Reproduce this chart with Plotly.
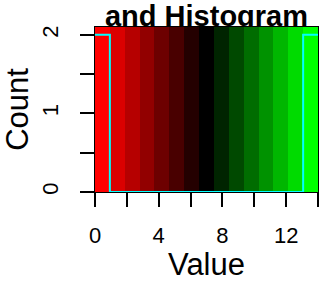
import plotly.graph_objects as go

# Data
breaks = [0.0, 0.933, 1.867, 2.8, 3.733, 4.667, 5.6, 6.533, 7.467, 8.4,
          9.333, 10.267, 11.2, 12.133, 13.067, 14.0]
counts = [2, 0, 0, 0, 0, 0, 0, 0, 0, 0, 0, 0, 0, 0, 2]
band_index = list(range(15))
x_tickvals = [0, 2, 4, 6, 8, 10, 12, 14]
x_ticktext = ["0", "", "4", "", "8", "", "12", ""]
y_tickvals = [0, 0.5, 1, 1.5, 2]
y_ticktext = ["0", "", "1", "", "2"]

# red -> black -> green panel (15 colours)
colors = ["#FF0000", "#DB0000", "#B60000", "#920000", "#6D0000", "#490000", "#240000",
          "#000000",
          "#002400", "#004900", "#006D00", "#009200", "#00B600", "#00DB00", "#00FF00"]
colorscale = [[i / (len(colors) - 1), c] for i, c in enumerate(colors)]

y_top = 2.1
FONT = "Liberation Sans, Arial, Helvetica, sans-serif"

fig = go.Figure()
fig.add_trace(go.Heatmap(
    z=[band_index], x=breaks, y=[0, y_top],
    colorscale=colorscale, zmin=0, zmax=len(colors) - 1,
    showscale=False, hoverinfo="skip"))
fig.add_trace(go.Scatter(
    x=breaks, y=counts + [counts[-1]], mode="lines",
    line=dict(color="#00FFFF", width=2, shape="hv"), hoverinfo="skip"))

fig.update_layout(
    width=320, height=282,
    margin=dict(l=95, r=2, t=27, b=90),
    paper_bgcolor="white", plot_bgcolor="white",
    showlegend=False,
    font=dict(family=FONT, color="black"),
    xaxis=dict(range=[0, 14], tickvals=x_tickvals, ticktext=x_ticktext,
               ticks="outside", ticklen=14, tickwidth=1.5, tickcolor="black",
               showline=True, linecolor="black", linewidth=1, mirror=True,
               showgrid=False, zeroline=False, tickfont=dict(size=22),
               ticklabelstandoff=10, automargin=False,
               title=dict(text="Value", font=dict(size=31), standoff=0)),
    yaxis=dict(range=[0, y_top], tickvals=y_tickvals, ticktext=y_ticktext,
               ticks="outside", ticklen=14, tickwidth=1.5, tickcolor="black",
               showline=True, linecolor="black", linewidth=1, mirror=True,
               showgrid=False, zeroline=False, tickfont=dict(size=22),
               tickangle=-90, ticklabelstandoff=13, automargin=False,
               title=dict(text="Count", font=dict(size=31), standoff=0)),
)
# Title drawn beneath the plot area so the descenders are hidden like the reference
fig.add_shape(type="rect", xref="paper", yref="paper",
              x0=0, x1=1, y0=1 - 2 / 165, y1=1.15,
              line=dict(width=0), fillcolor="rgba(0,0,0,0)", layer="below",
              label=dict(text="<b>and Histogram</b>", textposition="bottom center",
                         yanchor="bottom", padding=0,
                         font=dict(size=29, family=FONT, color="black")))

fig.write_html("out.html", config={"displayModeBar": False},
               post_script="document.body.style.margin='0';document.body.style.padding='0';")
